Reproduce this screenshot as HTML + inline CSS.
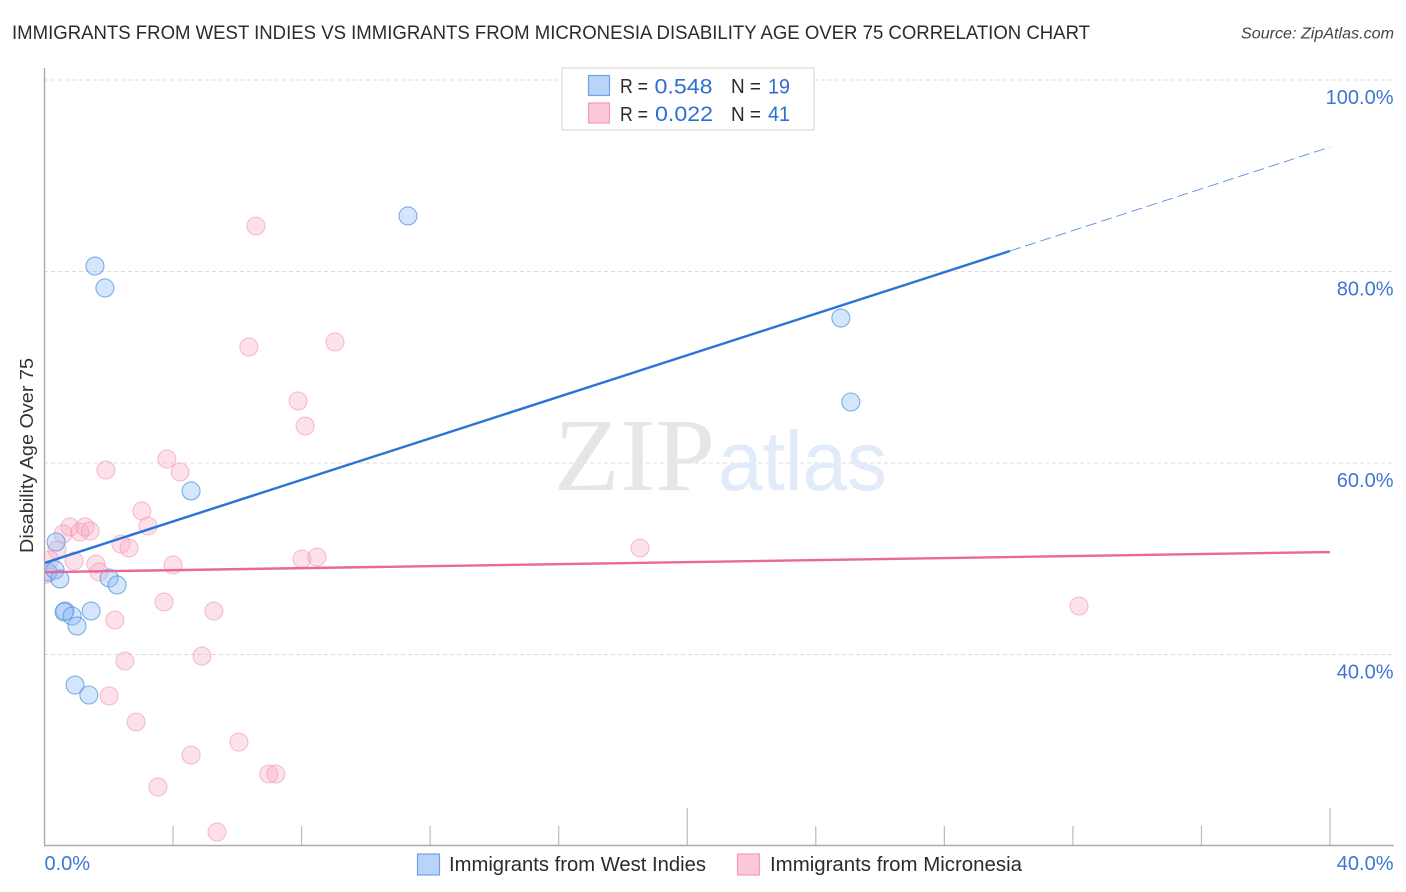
<!DOCTYPE html>
<html lang="en">
<head>
<meta charset="utf-8">
<title>Disability Age Over 75 Correlation Chart</title>
<style>
html,body{margin:0;padding:0;background:#fff;}
svg{display:block;font-family:"Liberation Sans",sans-serif;}
</style>
</head>
<body>
<svg id="chart" width="1406" height="892" viewBox="0 0 1406 892" xmlns="http://www.w3.org/2000/svg">
  <defs><clipPath id="plot-clip"><rect x="45" y="68" width="1349" height="777"/></clipPath></defs>
  <text x="12" y="39" font-size="19.5" fill="#2b2b2b" textLength="1078" lengthAdjust="spacingAndGlyphs">IMMIGRANTS FROM WEST INDIES VS IMMIGRANTS FROM MICRONESIA DISABILITY AGE OVER 75 CORRELATION CHART</text>
  <text x="1241" y="38.5" font-size="15.5" font-style="italic" fill="#444" textLength="153" lengthAdjust="spacingAndGlyphs">Source: ZipAtlas.com</text>
  <g id="grid"></g>
  <g>
    <text x="554" y="490" font-family="'Liberation Serif',serif" font-size="104" fill="#e6e6e6" textLength="161" lengthAdjust="spacingAndGlyphs">ZIP</text>
    <text x="718" y="490" font-size="84" fill="#e2ebf9" textLength="169" lengthAdjust="spacingAndGlyphs">atlas</text>
  </g>
  <g id="axes">
    <line x1="44.5" y1="68" x2="44.5" y2="845" stroke="#aaa" stroke-width="1.4"/>
    <line x1="44" y1="845.5" x2="1394" y2="845.5" stroke="#aaa" stroke-width="1.4"/>
  </g>
  <g id="x-ticks"></g>
  <g id="y-labels"></g>
  <g id="x-labels"></g>
  <text transform="translate(33,553) rotate(-90)" font-size="18" fill="#333" textLength="195" lengthAdjust="spacingAndGlyphs">Disability Age Over 75</text>
  <g id="marks" clip-path="url(#plot-clip)"></g>

  <g>
    <rect x="562" y="68" width="252" height="62" fill="#fff" stroke="#ddd" stroke-width="1.2"/>
    <rect x="588.5" y="75.5" width="21" height="20" fill="#b8d4f8" stroke="#6fa3e6" stroke-width="1.2"/>
    <rect x="588.5" y="103" width="21" height="20" fill="#fcc8da" stroke="#f09db8" stroke-width="1.2"/>
    <g font-size="20" fill="#2b2b2b">
      <text x="620" y="93" textLength="28" lengthAdjust="spacingAndGlyphs">R =</text>
      <text x="731" y="93" textLength="30" lengthAdjust="spacingAndGlyphs">N =</text>
      <text x="620" y="121" textLength="28" lengthAdjust="spacingAndGlyphs">R =</text>
      <text x="731" y="121" textLength="30" lengthAdjust="spacingAndGlyphs">N =</text>
    </g>
    <g font-size="21.5" fill="#2f6fd0">
      <text x="654.5" y="93.5" textLength="58" lengthAdjust="spacingAndGlyphs">0.548</text>
      <text x="768" y="93.5" textLength="22" lengthAdjust="spacingAndGlyphs">19</text>
      <text x="655" y="121" textLength="58" lengthAdjust="spacingAndGlyphs">0.022</text>
      <text x="768" y="121" textLength="22" lengthAdjust="spacingAndGlyphs">41</text>
    </g>
  </g>

  <g>
    <g>
      <rect x="417.5" y="854" width="22" height="21" fill="#b8d4f8" stroke="#6fa3e6" stroke-width="1.2"/>
      <text x="449" y="871" font-size="20" fill="#2b2b2b" textLength="257" lengthAdjust="spacingAndGlyphs">Immigrants from West Indies</text>
    </g>
    <g>
      <rect x="737.5" y="854" width="22" height="21" fill="#fcc8da" stroke="#f09db8" stroke-width="1.2"/>
      <text x="770" y="871" font-size="20" fill="#2b2b2b" textLength="252" lengthAdjust="spacingAndGlyphs">Immigrants from Micronesia</text>
    </g>
  </g>
</svg>
<script>
var yTickValues = [100, 80, 60, 40];
var yTickLabels = ['100.0%', '80.0%', '60.0%', '40.0%'];
var xTickValues = [4, 8, 12, 16, 20, 24, 28, 32, 36, 40];
var xTickMajor = [20, 40];
var xEdgeValues = [0, 40];
var xEdgeLabels = ['0.0%', '40.0%'];

var westIndiesX = [11.31, 1.57, 1.88, 24.78, 25.09, 4.56, 0.36, 0.11, 0.33, 0.48, 2.01, 2.26, 0.64, 0.61, 1.45, 0.86, 1.01, 0.95, 1.38];
var westIndiesY = [85.80, 80.57, 78.28, 75.14, 66.37, 57.08, 51.75, 48.62, 48.83, 47.89, 47.99, 47.26, 44.54, 44.44, 44.54, 44.02, 42.98, 36.81, 35.77];

var micronesiaX = [6.58, 6.36, 9.04, 7.89, 8.11, 3.81, 4.22, 1.91, 3.03, 3.22, 0.79, 0.58, 1.10, 1.26, 1.42, 2.38, 2.63, 0.39, 0.92, 1.60, 1.70, 4.00, 8.01, 8.48, 18.53, 3.72, 5.27, 2.19, 32.19, 2.50, 4.90, 2.01, 2.85, 4.56, 6.05, 6.98, 7.20, 3.53, 5.37, 0.17, 0.08];
var micronesiaY = [84.75, 72.12, 72.64, 66.48, 63.86, 60.42, 59.06, 59.27, 54.99, 53.42, 53.32, 52.59, 52.79, 53.32, 52.90, 51.54, 51.12, 50.91, 49.76, 49.45, 48.62, 49.35, 49.97, 50.18, 51.12, 45.48, 44.54, 43.60, 45.06, 39.32, 39.84, 35.67, 32.95, 29.50, 30.86, 27.52, 27.52, 26.16, 21.46, 49.87, 48.40];

var westIndiesTrendX = [0, 30.04, 40];
var westIndiesTrendY = [49.56, 82.14, 93.0];
var micronesiaTrendX = [0, 40];
var micronesiaTrendY = [48.6, 50.7];

var NS = 'http://www.w3.org/2000/svg';
function xScale(v) { return 44.5 + v * (1330 - 44.5) / 40; }
function yScale(v) { return 80 + (100 - v) * (654.5 - 80) / 60; }
function make(tag, attrs, parent) {
  var el = document.createElementNS(NS, tag);
  for (var k in attrs) { el.setAttribute(k, attrs[k]); }
  parent.appendChild(el);
  return el;
}

var grid = document.getElementById('grid');
yTickValues.forEach(function (v) {
  var ln = make('line', { x1: 44, x2: 1394, y1: yScale(v), y2: yScale(v), stroke: '#dcdcdc', 'stroke-width': 1, 'stroke-dasharray': '4 3' }, grid);
  
  
});

var xTicks = document.getElementById('x-ticks');
xTickValues.forEach(function (v) {
  var top = xTickMajor.indexOf(v) >= 0 ? 808 : 826;
  var t = make('line', { x1: xScale(v), x2: xScale(v), y1: top, y2: 845, stroke: '#bbb', 'stroke-width': 1.2 }, xTicks);
  
  
});

var yLabels = document.getElementById('y-labels');
yTickValues.forEach(function (v, i) {
  var t = make('text', { x: 1393.5, y: yScale(v) + 24, 'text-anchor': 'end', 'font-size': 20, fill: '#3f76d2' }, yLabels);
  t.textContent = yTickLabels[i];
  
  
});

var xLabels = document.getElementById('x-labels');
xEdgeValues.forEach(function (v, i) {
  var t = make('text', { x: i === 0 ? xScale(v) : 1393.5, y: 870, 'text-anchor': i === 0 ? 'start' : 'end', 'font-size': 20, fill: '#3f76d2' }, xLabels);
  t.textContent = xEdgeLabels[i];
  
  
});

var marks = document.getElementById('marks');
micronesiaX.forEach(function (v, i) {
  var c = make('circle', { cx: xScale(v), cy: yScale(micronesiaY[i]), r: 9, fill: '#f9a8c0', 'fill-opacity': 0.35, stroke: '#f08fae', 'stroke-opacity': 0.55, 'stroke-width': 1.1 }, marks);
  
  
});
westIndiesX.forEach(function (v, i) {
  var c = make('circle', { cx: xScale(v), cy: yScale(westIndiesY[i]), r: 9, fill: '#8fbcf4', 'fill-opacity': 0.38, stroke: '#4f8fe0', 'stroke-opacity': 0.7, 'stroke-width': 1.1 }, marks);
  
  
});

var blueSolid = make('line', { x1: xScale(westIndiesTrendX[0]), y1: yScale(westIndiesTrendY[0]), x2: xScale(westIndiesTrendX[1]), y2: yScale(westIndiesTrendY[1]), stroke: '#2874d8', 'stroke-width': 2.4 }, marks);


var blueDash = make('line', { x1: xScale(westIndiesTrendX[1]), y1: yScale(westIndiesTrendY[1]), x2: xScale(westIndiesTrendX[2]), y2: yScale(westIndiesTrendY[2]), stroke: '#2874d8', 'stroke-width': 0.9, 'stroke-dasharray': '11 5', 'stroke-opacity': 0.8 }, marks);


var pinkLine = make('line', { x1: xScale(micronesiaTrendX[0]), y1: yScale(micronesiaTrendY[0]), x2: xScale(micronesiaTrendX[1]), y2: yScale(micronesiaTrendY[1]), stroke: '#e8689a', 'stroke-width': 2.4 }, marks);


</script>
</body>
</html>
